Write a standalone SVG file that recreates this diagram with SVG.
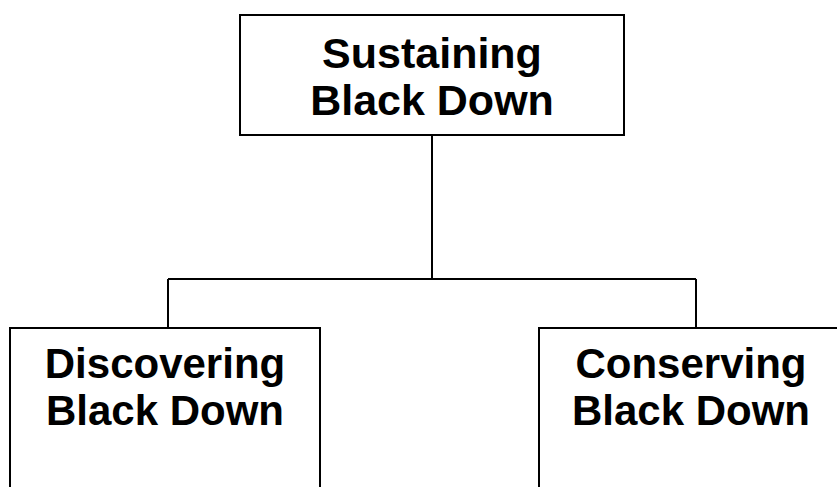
<svg xmlns="http://www.w3.org/2000/svg" width="837" height="487" viewBox="0 0 837 487">
<style>
.box{fill:#fff;stroke:#000;stroke-width:2}
.lbl{font-family:"Liberation Sans",Arial,sans-serif;font-weight:bold;font-size:43px;fill:#000;text-anchor:middle}
.con{fill:none;stroke:#000;stroke-width:2}
</style>
<rect width="837" height="487" fill="#fff"/>
<g id="connectors">
<path class="con" d="M432 135V279M168 279H696M168 279V328M696 279V328"/>
</g>
<g id="sustaining">
<rect class="box" x="240" y="15" width="384" height="120"/>
<text class="lbl" x="432" y="68">Sustaining</text>
<text class="lbl" x="432" y="115">Black Down</text>
</g>
<g id="discovering">
<rect class="box" x="10" y="328" width="310" height="180"/>
<text class="lbl" x="165" y="378" style="font-size:42px">Discovering</text>
<text class="lbl" x="165" y="425" style="font-size:42px">Black Down</text>
</g>
<g id="conserving">
<rect class="box" x="539" y="328" width="310" height="180"/>
<text class="lbl" x="691" y="378" style="font-size:42px">Conserving</text>
<text class="lbl" x="691" y="425" style="font-size:42px">Black Down</text>
</g>
</svg>
